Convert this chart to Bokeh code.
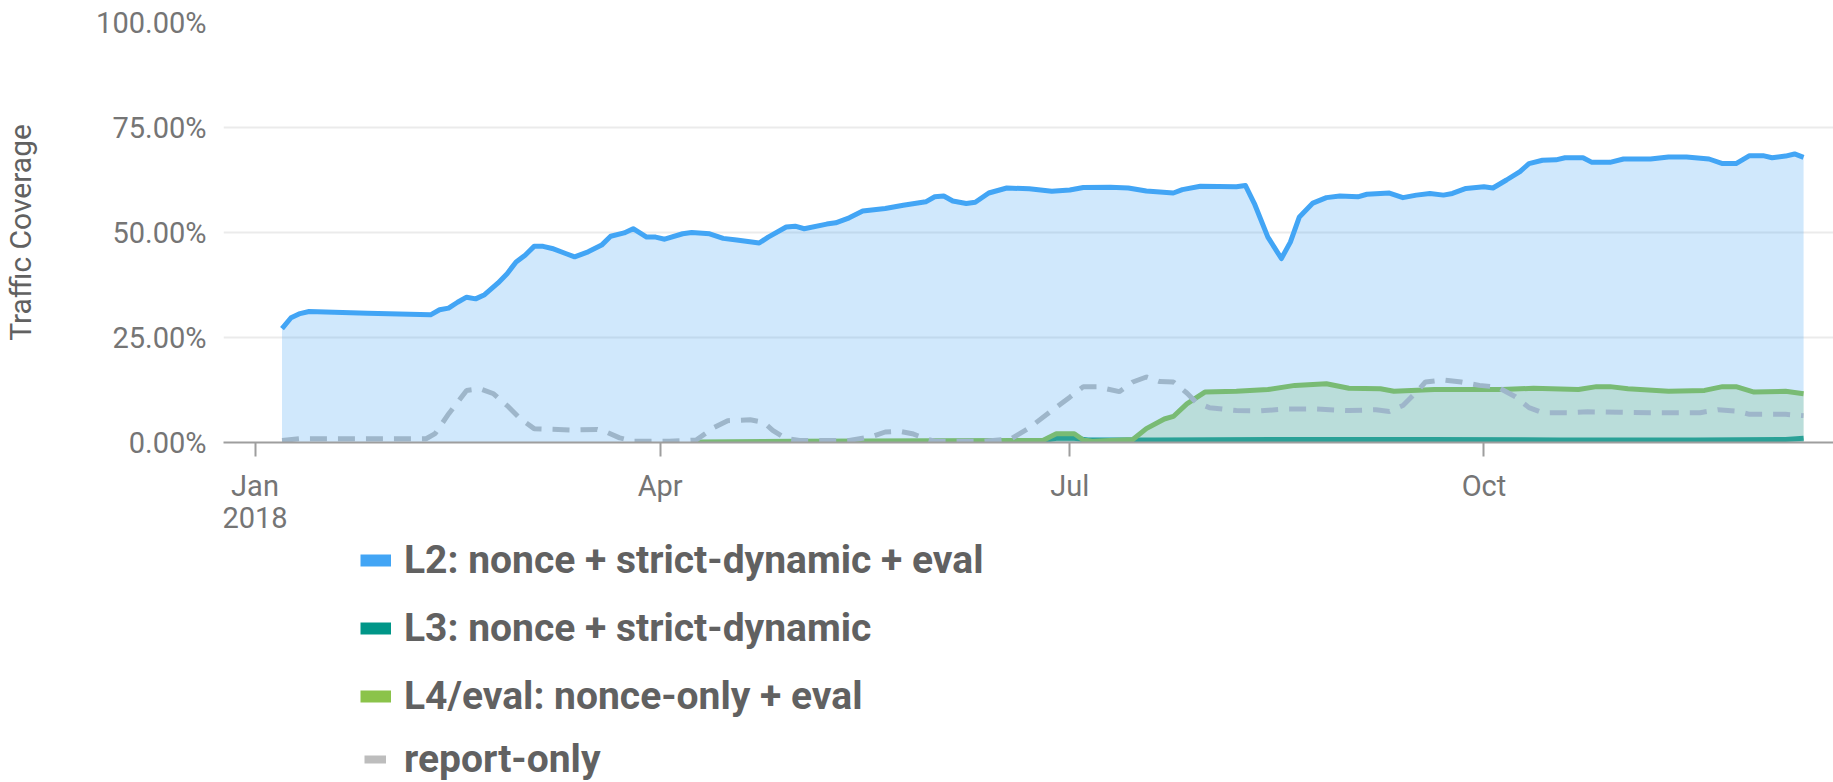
import pandas as pd
from bokeh.plotting import figure
from bokeh.layouts import column
from bokeh.models import Range1d, FixedTicker, PrintfTickFormatter, Legend, LegendItem
from bokeh.embed import file_html
from bokeh.resources import INLINE

# ---------------- data ----------------
l2_dates = ["2018-01-07", "2018-01-09", "2018-01-11", "2018-01-13", "2018-01-26", "2018-02-09", "2018-02-11",
            "2018-02-13", "2018-02-15", "2018-02-17", "2018-02-19", "2018-02-21", "2018-02-24", "2018-02-26",
            "2018-02-28", "2018-03-02", "2018-03-04", "2018-03-06", "2018-03-08", "2018-03-11", "2018-03-13",
            "2018-03-16", "2018-03-19", "2018-03-21", "2018-03-24", "2018-03-26", "2018-03-29", "2018-03-31",
            "2018-04-02", "2018-04-06", "2018-04-08", "2018-04-12", "2018-04-15", "2018-04-18", "2018-04-23",
            "2018-04-25", "2018-04-29", "2018-05-01", "2018-05-03", "2018-05-08", "2018-05-10", "2018-05-13",
            "2018-05-16", "2018-05-21", "2018-05-25", "2018-05-30", "2018-06-01", "2018-06-03", "2018-06-05",
            "2018-06-08", "2018-06-10", "2018-06-13", "2018-06-17", "2018-06-22", "2018-06-27", "2018-07-01",
            "2018-07-04", "2018-07-10", "2018-07-14", "2018-07-18", "2018-07-24", "2018-07-26", "2018-07-30",
            "2018-08-07", "2018-08-09", "2018-08-11", "2018-08-14", "2018-08-17", "2018-08-19", "2018-08-21",
            "2018-08-24", "2018-08-27", "2018-08-30", "2018-09-03", "2018-09-05", "2018-09-10", "2018-09-13",
            "2018-09-16", "2018-09-19", "2018-09-22", "2018-09-24", "2018-09-27", "2018-10-01", "2018-10-03",
            "2018-10-06", "2018-10-09", "2018-10-11", "2018-10-14", "2018-10-17", "2018-10-19", "2018-10-23",
            "2018-10-25", "2018-10-29", "2018-11-01", "2018-11-07", "2018-11-11", "2018-11-15", "2018-11-20",
            "2018-11-23", "2018-11-26", "2018-11-29", "2018-12-02", "2018-12-04", "2018-12-07", "2018-12-09",
            "2018-12-11"]
l2_values = [27.1, 29.7, 30.7, 31.2, 30.8, 30.4, 31.6,
             32.0, 33.4, 34.6, 34.2, 35.2, 38.0, 40.2,
             43.0, 44.6, 46.7, 46.7, 46.2, 45.0, 44.2,
             45.4, 47.0, 49.1, 49.9, 50.9, 48.9, 48.9,
             48.4, 49.7, 50.0, 49.7, 48.6, 48.2, 47.5,
             48.9, 51.3, 51.5, 50.9, 52.0, 52.3, 53.5,
             55.1, 55.7, 56.5, 57.3, 58.5, 58.7, 57.5,
             56.9, 57.2, 59.4, 60.6, 60.4, 59.8, 60.1,
             60.7, 60.8, 60.6, 59.9, 59.4, 60.2, 61.0,
             60.9, 61.2, 56.9, 48.9, 43.8, 47.7, 53.7,
             57.0, 58.3, 58.7, 58.5, 59.1, 59.4, 58.3,
             58.9, 59.3, 58.9, 59.3, 60.5, 60.9, 60.6,
             62.5, 64.5, 66.4, 67.2, 67.3, 67.8, 67.8,
             66.7, 66.7, 67.5, 67.5, 68.0, 68.0, 67.5,
             66.4, 66.4, 68.3, 68.3, 67.8, 68.2, 68.7,
             67.9]

l3_dates = ["2018-06-25", "2018-06-28", "2018-07-02", "2018-07-05", "2018-07-20", "2018-08-19", "2018-09-18",
            "2018-10-18", "2018-11-17", "2018-12-07", "2018-12-11"]
l3_values = [0.4, 1.0, 1.0, 0.6, 0.6, 0.7, 0.7, 0.6, 0.6, 0.7, 1.0]

l4_dates = ["2018-04-09", "2018-05-01", "2018-05-31", "2018-06-25", "2018-06-28", "2018-07-02", "2018-07-04",
            "2018-07-06", "2018-07-15", "2018-07-18", "2018-07-22", "2018-07-24", "2018-07-27", "2018-07-31",
            "2018-08-07", "2018-08-14", "2018-08-20", "2018-08-27", "2018-09-01", "2018-09-08", "2018-09-11",
            "2018-09-20", "2018-10-05", "2018-10-12", "2018-10-22", "2018-10-26", "2018-10-29", "2018-11-02",
            "2018-11-11", "2018-11-19", "2018-11-23", "2018-11-26", "2018-11-30", "2018-12-07", "2018-12-11"]
l4_values = [0.1, 0.3, 0.4, 0.5, 2.1, 2.1, 0.6,
             0.3, 0.7, 3.3, 5.6, 6.2, 9.2, 12.0,
             12.2, 12.6, 13.6, 14.0, 12.9, 12.8, 12.2,
             12.6, 12.6, 12.9, 12.6, 13.3, 13.3, 12.8,
             12.2, 12.4, 13.3, 13.3, 12.0, 12.2, 11.6]

ro_dates = ["2018-01-07", "2018-01-11", "2018-02-08", "2018-02-10", "2018-02-13", "2018-02-17", "2018-02-20",
            "2018-02-23", "2018-02-26", "2018-03-01", "2018-03-04", "2018-03-12", "2018-03-18", "2018-03-20",
            "2018-03-23", "2018-03-26", "2018-04-03", "2018-04-09", "2018-04-13", "2018-04-16", "2018-04-21",
            "2018-04-24", "2018-04-26", "2018-04-29", "2018-05-02", "2018-05-13", "2018-05-18", "2018-05-21",
            "2018-05-24", "2018-05-27", "2018-05-30", "2018-06-01", "2018-06-12", "2018-06-18", "2018-06-22",
            "2018-06-27", "2018-07-01", "2018-07-04", "2018-07-07", "2018-07-12", "2018-07-15", "2018-07-18",
            "2018-07-21", "2018-07-24", "2018-07-27", "2018-07-29", "2018-08-01", "2018-08-07", "2018-08-12",
            "2018-08-18", "2018-08-24", "2018-09-01", "2018-09-07", "2018-09-10", "2018-09-13", "2018-09-16",
            "2018-09-18", "2018-09-22", "2018-09-26", "2018-09-30", "2018-10-04", "2018-10-08", "2018-10-11",
            "2018-10-14", "2018-10-20", "2018-10-24", "2018-10-31", "2018-11-07", "2018-11-18", "2018-11-22",
            "2018-11-26", "2018-11-29", "2018-12-07", "2018-12-11"]
ro_values = [0.5, 0.9, 0.9, 2.1, 6.8, 12.4, 12.8,
             11.6, 8.8, 5.6, 3.3, 3.0, 3.1, 2.5,
             1.1, 0.3, 0.3, 0.6, 3.6, 5.2, 5.4,
             4.8, 2.9, 0.9, 0.5, 0.5, 1.4, 2.5,
             2.7, 2.1, 0.9, 0.3, 0.3, 0.9, 3.5,
             7.6, 10.8, 13.3, 13.3, 12.1, 14.4, 15.6,
             14.5, 14.4, 11.8, 9.6, 8.3, 7.6, 7.5,
             8.0, 8.0, 7.6, 7.8, 7.4, 8.8, 12.0,
             14.4, 14.9, 14.4, 13.6, 13.2, 10.9, 8.3,
             7.1, 7.1, 7.3, 7.2, 7.1, 7.1, 7.8,
             7.5, 6.7, 6.7, 6.4]

series_labels = ["L2: nonce + strict-dynamic + eval", "L3: nonce + strict-dynamic",
                 "L4/eval: nonce-only + eval", "report-only"]
tick_dates = ["2018-01-01", "2018-04-01", "2018-07-01", "2018-10-01"]
tick_labels = ["Jan\n2018", "Apr", "Jul", "Oct"]
y_ticks = [0, 25, 50, 75, 100]

# ---------------- style ----------------
BLUE = "#42a5f5"
TEAL = "#009688"
GREEN = "#8bc34a"
GRAY = "#bdbdbd"
FONT = "Roboto"


def ms(d):
    return int(pd.Timestamp(d).value // 10**6)


x_start = pd.Timestamp("2018-01-01") - pd.Timedelta(days=7.0)
x_end = pd.Timestamp("2018-01-01") + pd.Timedelta(days=350.65)

# ---------------- chart ----------------
p = figure(width=1833, height=546, output_backend="svg", toolbar_location=None,
           x_range=Range1d(ms(x_start), ms(x_end)), y_range=Range1d(0, 100),
           min_border_left=222, min_border_right=0, min_border_top=22, min_border_bottom=104)
p.outline_line_color = None
p.background_fill_color = "white"
p.border_fill_color = "white"

l2_x = pd.to_datetime(l2_dates)
l3_x = pd.to_datetime(l3_dates)
l4_x = pd.to_datetime(l4_dates)
ro_x = pd.to_datetime(ro_dates)

# lower series first, then L2's translucent area on top (tints them), then L2 line
p.varea(x=l3_x, y1=0, y2=l3_values, fill_color=TEAL, fill_alpha=0.25)
p.line(x=l3_x, y=l3_values, line_color=TEAL, line_width=5, line_join="round")
p.varea(x=l4_x, y1=0, y2=l4_values, fill_color=GREEN, fill_alpha=0.25)
p.line(x=l4_x, y=l4_values, line_color=GREEN, line_width=5, line_join="round")
p.line(x=ro_x, y=ro_values, line_color=GRAY, line_width=5, line_dash="17 11")
p.varea(x=l2_x, y1=0, y2=l2_values, fill_color=BLUE, fill_alpha=0.25)
p.line(x=l2_x, y=l2_values, line_color=BLUE, line_width=5, line_join="round")

# x axis
p.xaxis.ticker = FixedTicker(ticks=[ms(d) for d in tick_dates])
p.xaxis.major_label_overrides = {ms(d): lab for d, lab in zip(tick_dates, tick_labels)}
p.xaxis.major_label_text_font = FONT
p.xaxis.major_label_text_font_size = "29px"
p.xaxis.major_label_text_line_height = 0.97
p.xaxis.major_label_text_color = "#757575"
p.xaxis.major_label_standoff = 12
p.xaxis.major_tick_out = 14
p.xaxis.major_tick_in = 0
p.xaxis.major_tick_line_color = "#9e9e9e"
p.xaxis.major_tick_line_width = 2
p.xaxis.minor_tick_line_color = None
p.xaxis.axis_line_color = "#9e9e9e"
p.xaxis.axis_line_width = 2

# y axis
p.yaxis.ticker = FixedTicker(ticks=y_ticks)
p.yaxis.formatter = PrintfTickFormatter(format="%.2f%%")
p.yaxis.major_label_text_font = FONT
p.yaxis.major_label_text_font_size = "29px"
p.yaxis.major_label_text_color = "#757575"
p.yaxis.major_label_standoff = 17
p.yaxis.major_tick_out = 0
p.yaxis.major_tick_in = 0
p.yaxis.major_tick_line_color = None
p.yaxis.minor_tick_line_color = None
p.yaxis.axis_line_color = None
p.yaxis.axis_label = "Traffic Coverage"
p.yaxis.axis_label_text_font = FONT
p.yaxis.axis_label_text_font_style = "normal"
p.yaxis.axis_label_text_font_size = "30px"
p.yaxis.axis_label_text_color = "#616161"
p.yaxis.axis_label_standoff = 55

p.xgrid.grid_line_color = None
p.ygrid.grid_line_color = "#ebebeb"
p.ygrid.grid_line_width = 2

# ---------------- legend strip ----------------
lg = figure(width=1833, height=246, output_backend="svg", toolbar_location=None,
            x_axis_location=None, y_axis_location=None,
            min_border_left=0, min_border_right=0, min_border_top=0, min_border_bottom=0)
lg.margin = (-10, 0, 0, 0)
lg.outline_line_color = None
lg.grid.visible = False
lg.background_fill_alpha = 0
lg.border_fill_alpha = 0

nan = [float("nan")]
sw1 = lg.line(x=nan, y=nan, line_color=BLUE, line_width=12)
sw2 = lg.line(x=nan, y=nan, line_color=TEAL, line_width=12)
sw3 = lg.line(x=nan, y=nan, line_color=GREEN, line_width=12)
sw4 = lg.line(x=nan, y=nan, line_color=GRAY, line_width=8)

common = dict(orientation="vertical", glyph_height=46, label_height=46, spacing=22,
              padding=0, margin=0, border_line_alpha=0, background_fill_alpha=0,
              label_text_font=FONT, label_text_font_style="bold",
              label_text_font_size="39px", label_text_color="#616161")

legend_a = Legend(items=[LegendItem(label=series_labels[0], renderers=[sw1]),
                         LegendItem(label=series_labels[1], renderers=[sw2]),
                         LegendItem(label=series_labels[2], renderers=[sw3])],
                  location=(137, 63), glyph_width=31, label_standoff=13, **common)
legend_b = Legend(items=[LegendItem(label=series_labels[3], renderers=[sw4])],
                  location=(141, 0), glyph_width=22, label_standoff=18, **common)
lg.add_layout(legend_a)
lg.add_layout(legend_b)

layout = column(p, lg, spacing=0)
open("out.html", "w").write(file_html(layout, INLINE))
